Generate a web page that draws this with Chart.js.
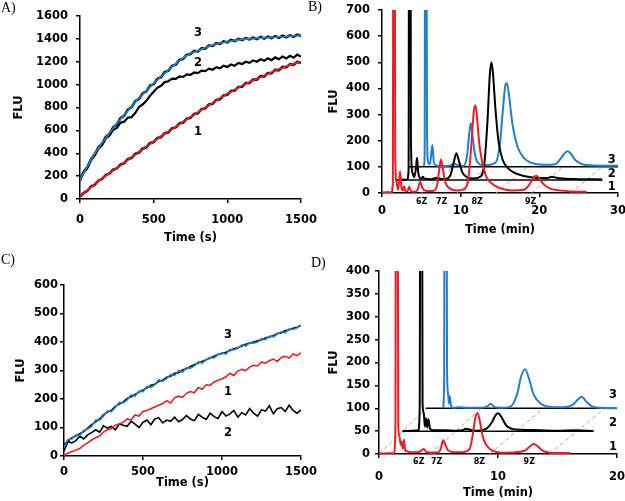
<!DOCTYPE html>
<html>
<head>
<meta charset="utf-8">
<script src="https://cdn.jsdelivr.net/npm/chart.js@4.4.1/dist/chart.umd.min.js"></script>
<style>
  html, body { margin: 0; padding: 0; background: #fff; }
  #fig { position: relative; width: 625px; height: 501px; overflow: hidden; }
  #fig canvas { position: absolute; }
  .tag { position: absolute; font-family: "Liberation Serif", serif; font-size: 14px; line-height: 14px; color: #000; }
</style>
</head>
<body>
<div id="fig">
  <canvas id="chartA" width="320" height="250" style="left:0;top:0"></canvas>
  <canvas id="chartB" width="305" height="250" style="left:320px;top:0"></canvas>
  <canvas id="chartC" width="320" height="251" style="left:0;top:250px"></canvas>
  <canvas id="chartD" width="305" height="251" style="left:320px;top:250px"></canvas>
  <div class="tag" style="left:1px;top:1px">A)</div>
  <div class="tag" style="left:308px;top:0px">B)</div>
  <div class="tag" style="left:1px;top:253px">C)</div>
  <div class="tag" style="left:311px;top:256px">D)</div>
</div>
<script>
// time axes for the kinetic traces (s)
const secs25 = [0,25,50,75,100,125,150,175,200,225,250,275,300,325,350,375,400,425,450,475,500,525,550,575,600,625,650,675,700,725,750,775,800,825,850,875,900,925,950,975,1000,1025,1050,1075,1100,1125,1150,1175,1200,1225,1250,1275,1300,1325,1350,1375,1400,1425,1450,1475,1500];
const secs50 = [0,50,100,150,200,250,300,350,400,450,500,550,600,650,700,750,800,850,900,950,1000,1050,1100,1150,1200,1250,1300,1350,1400,1450,1500];

// panel A
const aRed = [20,75,130,180,228,272,318,365,410,458,503,548,590,632,675,716,758,800,840,880,919,955,990,1022,1052,1080,1108,1135,1160,1182,1200];
const aBlue = [170,285,395,490,576,660,736,810,881,948,1012,1072,1129,1182,1232,1275,1297,1322,1345,1362,1376,1387,1396,1401,1405,1410,1414,1417,1420,1426,1432];
const aRawRed = [18,52,72,108,126,160,176,210,224,256,268,300,314,348,360,394,406,440,452,488,498,532,542,576,584,618,626,660,668,702,710,744,750,786,792,827,832,866,872,906,912,944,948,980,982,1014,1014,1044,1044,1074,1072,1102,1100,1129,1127,1155,1152,1178,1174,1198,1192];
const aRawBlue = [165,236,279,348,390,451,484,541,570,627,652,707,729,781,803,855,874,923,941,989,1005,1050,1065,1109,1122,1164,1175,1216,1225,1262,1268,1295,1290,1318,1315,1342,1338,1362,1356,1377,1369,1390,1380,1400,1389,1407,1395,1411,1398,1416,1403,1420,1407,1424,1410,1427,1413,1431,1419,1437,1426];
const aBlack2 = [172,232,270,338,382,440,472,530,556,605,622,668,676,712,716,752,805,826,858,902,938,972,990,1022,1030,1052,1050,1072,1068,1090,1085,1106,1100,1122,1118,1140,1130,1152,1142,1166,1154,1176,1165,1190,1180,1200,1190,1212,1200,1222,1208,1230,1214,1238,1222,1246,1228,1252,1236,1262,1244];

// panel C
const cBlue = [30,58,60,74,72,90,95,104,126,126,140,158,156,170,188,186,197,214,210,228,226,244,240,250,268,262,272,286,282,300,294,310,308,316,330,326,338,346,344,356,362,358,374,372,378,390,386,398,396,400,412,408,420,418,428,436,432,446,444,450,460];
const cRawBlue = [40,52,64,70,78,86,98,110,120,130,144,154,160,174,182,190,202,208,216,224,232,238,248,252,262,266,276,280,290,292,302,306,314,320,326,332,338,344,350,356,360,364,370,376,380,386,392,396,400,404,408,414,418,422,430,432,440,442,448,452,458];
const cRed = [2,10,16,20,26,38,46,56,64,70,84,92,96,108,112,118,130,126,144,140,156,160,166,172,178,184,194,186,204,210,206,220,226,222,240,234,250,248,260,266,270,278,290,282,298,304,300,312,318,316,330,326,334,340,332,346,350,344,358,352,362];
const cBlack2 = [18,50,46,54,70,60,74,82,92,84,106,98,104,92,112,108,104,122,112,100,118,126,110,130,134,116,126,122,136,120,128,142,130,124,146,136,128,150,138,132,156,140,148,160,136,152,144,166,150,140,162,158,176,148,166,170,156,178,160,150,162];

// panel B chromatograms (min, FLU)
const bTime1 = [0,1.2,1.38,1.45,1.6,1.68,1.85,2.05,2.29,2.5,2.65,2.8,3.0,3.25,3.47,3.7,4.2,4.55,4.85,5.15,5.6,6.5,7.0,7.3,7.5,7.7,8.0,8.5,9.5,10.5,11.0,11.4,11.7,11.9,12.1,12.4,12.8,13.3,14.0,15.0,16.5,18.0,18.8,19.3,19.6,20.0,20.5,21.3,22.5,24.0,26.0];
const bFlu1 = [2,3,40,1400,1400,150,40,12,83,15,10,26,6,8,24,6,5,14,42,18,8,8,30,95,128,100,45,20,10,15,60,200,320,335,280,180,110,60,35,18,10,12,35,60,66,55,35,18,10,6,5];
const bTime2 = [1.8,3.2,3.38,3.45,3.6,3.68,3.85,4.1,4.3,4.45,4.6,4.8,5.0,5.2,5.4,6.3,6.9,7.3,8.0,8.7,9.1,9.45,9.8,10.2,10.8,11.5,12.5,13.0,13.4,13.7,13.9,14.1,14.4,14.8,15.3,16.0,17.0,18.0,19.0,20.0,21.0,21.6,22.2,23.0,25.0,28.0];
const bFlu2 = [50,52,90,1400,1400,200,80,60,90,135,80,58,55,62,55,53,58,55,54,68,115,152,120,80,60,55,62,110,270,450,500,460,330,200,130,95,75,65,60,57,57,62,58,55,53,52];
const bTime3 = [5.3,5.42,5.5,5.62,5.72,5.85,6.1,6.4,6.6,6.9,7.5,8.5,9.2,9.6,10.3,10.8,11.1,11.3,11.5,11.8,12.2,13.0,14.4,15.0,15.4,15.7,15.9,16.2,16.6,17.2,18.0,19.0,20.5,22.0,22.8,23.3,23.6,24.0,24.6,25.5,27.0,30.0];
const bFlu3 = [102,140,1400,1400,250,120,110,185,115,105,103,104,112,106,103,140,230,268,220,150,115,106,115,190,330,415,420,360,260,180,135,115,108,110,135,155,160,150,125,110,105,104];
const bBaseFrom = [1.8, 3.3];
const bBaseTo = [28, 30];
const bBaseLevel = [50, 100];
const bGuideFrom = [0.4, 5, 9.5, 14.5, 19, 24];
const bGuideTo = [4.4, 9, 13.5, 18.5, 23, 28];

// panel D chromatograms (min, FLU)
const dTime1 = [0,1.25,1.38,1.43,1.55,1.62,1.72,1.82,1.9,2.0,2.1,2.2,2.35,2.6,3.2,3.5,3.75,4.0,4.5,5.0,5.2,5.38,5.55,5.8,6.3,7.0,7.6,7.9,8.1,8.28,8.45,8.7,9.0,9.5,10.3,11.5,12.3,12.7,13.0,13.3,13.7,14.3,15.0,16.05];
const dFlu1 = [1,2,60,900,900,60,38,20,27,12,31,8,6,4,4,6,11,4,3,4,12,30,22,8,4,4,10,45,80,89,75,40,20,8,3,4,8,17,22,18,8,3,2,2];
const dTime2 = [1.97,3.3,3.42,3.48,3.6,3.66,3.76,3.85,3.95,4.05,4.15,4.3,4.6,5.5,6.5,7.0,7.3,8.0,9.0,9.5,9.8,10.03,10.3,10.7,11.2,12,13.5,15,16.5,18.03];
const dFlu2 = [50,52,100,900,900,110,90,60,78,58,76,55,52,52,51,52,55,51,55,70,85,89,80,62,55,53,52,51,52,50];
const dTime3 = [5.38,5.47,5.53,5.65,5.72,5.8,5.88,5.95,6.05,6.15,6.3,6.6,7.5,8.5,9.1,9.38,9.7,10.2,11.0,11.6,11.95,12.28,12.6,13.0,13.6,14.5,15.5,16.3,16.75,17.05,17.4,17.9,18.6,20];
const dFlu3 = [100,150,900,900,180,134,110,127,105,102,101,102,101,101,104,110,103,101,103,130,170,185,165,130,110,103,102,108,120,125,115,104,101,100];
const dBaseFrom = [1.97, 3.93];
const dBaseTo = [18.03, 20];
const dBaseLevel = [50, 100];
const dGuideFrom = [0, 4.3, 9.3, 14.3];
const dGuideTo = [4, 8.6, 13.8, 19];

const RED = '#ee1c24';
const BLUE = '#1f80c8';
const GREY = '#a8a8a8';
const boldFont = { family: 'DejaVu Sans', size: 11.5, weight: 'bold' };

function pts(xs, ys) {
  return xs.map((x, i) => ({ x: x, y: ys[i] }));
}

function trace(xs, ys, color, width, order, smooth) {
  return {
    data: pts(xs, ys),
    borderColor: color,
    borderWidth: width,
    pointRadius: 0,
    fill: false,
    order: order,
    cubicInterpolationMode: smooth ? 'monotone' : 'default',
    tension: 0
  };
}

// straight segments: horizontal baselines and dashed guides
function segments(from, to, yFrom, yTo, color, width, dash) {
  return from.map((x0, i) => ({
    data: [{ x: x0, y: yFrom[i] }, { x: to[i], y: yTo[i] }],
    borderColor: color,
    borderWidth: width,
    borderDash: dash,
    pointRadius: 0,
    fill: false,
    order: 5
  }));
}

// curve numbers and peak names
const notes = {
  id: 'notes',
  afterDatasetsDraw(chart, args, opts) {
    const { ctx, scales } = chart;
    ctx.save();
    ctx.fillStyle = '#000';
    ctx.textAlign = 'center';
    ctx.textBaseline = 'middle';
    (opts.items || []).forEach(n => {
      ctx.font = 'bold ' + n.size + 'px "DejaVu Sans"';
      ctx.fillText(n.text, scales.x.getPixelForValue(n.x), scales.y.getPixelForValue(n.y));
    });
    ctx.restore();
  }
};

function makeChart(id, datasets, p, items) {
  return new Chart(document.getElementById(id), {
    type: 'line',
    data: { datasets: datasets },
    plugins: [notes],
    options: {
      responsive: false,
      animation: false,
      events: [],
      layout: { padding: p.pad },
      plugins: {
        legend: { display: false },
        tooltip: { enabled: false },
        notes: { items: items }
      },
      scales: {
        x: {
          type: 'linear', min: 0, max: p.xMax,
          border: { color: '#000', width: 1.5 },
          grid: { drawOnChartArea: false, drawTicks: true, tickLength: 4, color: '#000', lineWidth: 1.5 },
          ticks: { stepSize: p.xStep, autoSkip: false, maxRotation: 0, padding: p.xTickPad, color: '#000', font: boldFont, format: { useGrouping: false } },
          title: { display: true, text: p.xTitle, color: '#000', font: boldFont, padding: { top: 0, bottom: p.xTitlePad } },
          afterFit: s => { s.height = p.xH; s.paddingLeft = 0; s.paddingRight = 0; }
        },
        y: {
          min: 0, max: p.yMax,
          border: { color: '#000', width: 1.5 },
          grid: { drawOnChartArea: false, drawTicks: true, tickLength: 4, color: '#000', lineWidth: 1.5 },
          ticks: { stepSize: p.yStep, autoSkip: false, padding: p.yTickPad, color: '#000', font: boldFont, format: { useGrouping: false } },
          title: { display: true, text: 'FLU', color: '#000', font: boldFont, padding: { top: p.yTitlePad, bottom: 0 } },
          afterFit: s => { s.width = p.yW; s.paddingTop = 0; s.paddingBottom = 0; }
        }
      }
    }
  });
}

// A) kinetics
makeChart('chartA', [
  trace(secs50, aRed, RED, 1.8, 0, true),
  trace(secs50, aBlue, BLUE, 1.8, 0, true),
  trace(secs25, aRawRed, '#000', 2.6, 1, false),
  trace(secs25, aRawBlue, '#000', 2.6, 1, false),
  trace(secs25, aBlack2, '#000', 2.2, 1, false)
], {
  xMax: 1500, xStep: 500, yMax: 1600, yStep: 200, yW: 80, xH: 51,
  pad: { left: 0, top: 16, right: 19, bottom: 0 },
  yTickPad: 8, xTickPad: 10, yTitlePad: 12.5, xTitlePad: 5.4, xTitle: 'Time (s)'
}, [
  { text: '3', x: 801, y: 1451, size: 11.5 },
  { text: '2', x: 801, y: 1189, size: 11.5 },
  { text: '1', x: 801, y: 586, size: 11.5 }
]);

// B) chromatograms
makeChart('chartB', [
  trace(bTime1, bFlu1, RED, 2, 0, true),
  trace(bTime2, bFlu2, '#000', 2, 0, true),
  trace(bTime3, bFlu3, BLUE, 2, 0, true),
  ...segments(bBaseFrom, bBaseTo, bBaseLevel, bBaseLevel, '#000', 1.5, []),
  ...segments(bGuideFrom, bGuideTo, [0,0,0,0,0,0], [100,100,100,100,100,100], GREY, 1, [4, 3])
], {
  xMax: 30, xStep: 10, yMax: 700, yStep: 100, yW: 62, xH: 57,
  pad: { left: 0, top: 10, right: 7, bottom: 0 },
  yTickPad: 8, xTickPad: 7, yTitlePad: 6.7, xTitlePad: 13.4, xTitle: 'Time (min)'
}, [
  { text: '3', x: 29.2, y: 126, size: 11.5 },
  { text: '2', x: 29.2, y: 72, size: 11.5 },
  { text: '1', x: 29.2, y: 23, size: 11.5 },
  { text: '6Z', x: 5.04, y: -34, size: 8 },
  { text: '7Z', x: 7.58, y: -34, size: 8 },
  { text: '8Z', x: 12.1, y: -34, size: 8 },
  { text: '9Z', x: 18.9, y: -34, size: 8 }
]);

// C) kinetics
makeChart('chartC', [
  trace(secs25, cBlue, BLUE, 1.6, 0, false),
  trace(secs25, cRed, RED, 1.6, 0, false),
  trace(secs25, cRawBlue, '#000', 1.6, 1, false),
  trace(secs25, cBlack2, '#000', 1.6, 1, false)
], {
  xMax: 1500, xStep: 500, yMax: 600, yStep: 100, yW: 64, xH: 45,
  pad: { left: 0, top: 35, right: 19, bottom: 0 },
  yTickPad: 2, xTickPad: 4.8, yTitlePad: 14.4, xTitlePad: 11.4, xTitle: 'Time (s)'
}, [
  { text: '3', x: 1038, y: 425, size: 11.5 },
  { text: '1', x: 1038, y: 225, size: 11.5 },
  { text: '2', x: 1038, y: 81, size: 11.5 }
]);

// D) chromatograms
makeChart('chartD', [
  trace(dTime1, dFlu1, RED, 2, 0, true),
  trace(dTime2, dFlu2, '#000', 2, 0, true),
  trace(dTime3, dFlu3, BLUE, 2, 0, true),
  ...segments(dBaseFrom, dBaseTo, dBaseLevel, dBaseLevel, '#000', 1.5, []),
  ...segments(dGuideFrom, dGuideTo, [0,0,0,0], [100,100,100,100], GREY, 1, [4, 3])
], {
  xMax: 20, xStep: 10, yMax: 400, yStep: 50, yW: 59, xH: 47,
  pad: { left: 0, top: 21, right: 8, bottom: 0 },
  yTickPad: 5, xTickPad: 11.8, yTitlePad: 6.7, xTitlePad: 1.1, xTitle: 'Time (min)'
}, [
  { text: '3', x: 19.66, y: 129, size: 11.5 },
  { text: '2', x: 19.66, y: 68, size: 11.5 },
  { text: '1', x: 19.66, y: 15, size: 11.5 },
  { text: '6Z', x: 3.34, y: -17, size: 8 },
  { text: '7Z', x: 4.85, y: -17, size: 8 },
  { text: '8Z', x: 8.43, y: -17, size: 8 },
  { text: '9Z', x: 12.63, y: -17, size: 8 }
]);
</script>
</body>
</html>
